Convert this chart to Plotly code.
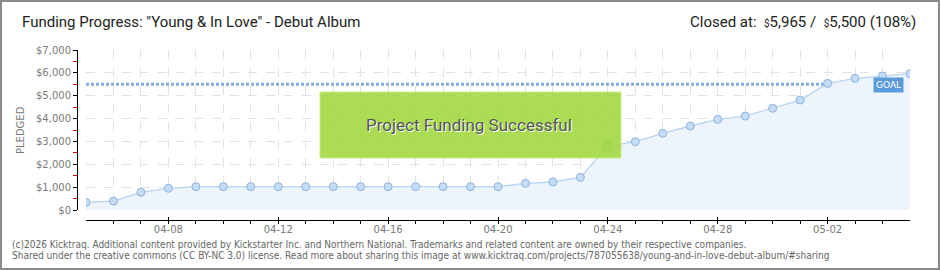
import plotly.graph_objects as go

# ---------------- data ----------------
dates = ["2013-04-05", "2013-04-06", "2013-04-07", "2013-04-08", "2013-04-09", "2013-04-10",
         "2013-04-11", "2013-04-12", "2013-04-13", "2013-04-14", "2013-04-15", "2013-04-16",
         "2013-04-17", "2013-04-18", "2013-04-19", "2013-04-20", "2013-04-21", "2013-04-22",
         "2013-04-23", "2013-04-24", "2013-04-25", "2013-04-26", "2013-04-27", "2013-04-28",
         "2013-04-29", "2013-04-30", "2013-05-01", "2013-05-02", "2013-05-03", "2013-05-04",
         "2013-05-05"]
pledged = [335, 390, 775, 950, 1020, 1020,
           1020, 1020, 1020, 1020, 1020, 1020,
           1020, 1020, 1020, 1020, 1165, 1225,
           1430, 2790, 2990, 3355, 3675, 3965,
           4110, 4450, 4810, 5540, 5760, 5860,
           5965]
goal = 5500
title_text = 'Funding Progress: "Young & In Love" - Debut Album'
closed_text = ('Closed at:  <span style="font-size:10px">$</span>5,965 /  '
               '<span style="font-size:10px">$</span>5,500 (108%)')
footer_1 = ("(c)2026 Kicktraq. Additional content provided by Kickstarter Inc. and Northern National. "
            "Trademarks and related content are owned by their respective companies.")
footer_2 = ("Shared under the creative commons (CC BY-NC 3.0) license. Read more about sharing this image at "
            "www.kicktraq.com/projects/787055638/young-and-in-love-debut-album/#sharing")

# ---------------- layout geometry (pixels) ----------------
W, H = 940, 270
ML, MR, MT, MB = 77, 30, 50, 50
PW = W - ML - MR
PH = H - MT - MB


def px(x):
    return (x - ML) / PW


def py(y):
    return (H - MB - y) / PH


head = "Roboto, sans-serif"
foot = "Liberation Sans Narrow, DejaVu Sans Condensed, sans-serif"
tickfont = dict(family="DejaVu Sans, sans-serif", size=10, color="#7a7a7a")

fig = go.Figure()
fig.add_trace(go.Scatter(
    x=dates, y=pledged, mode="lines+markers",
    line=dict(color="#b7d4f3", width=1.3),
    fill="tozeroy", fillcolor="#edf4fc",
    marker=dict(size=8, color="#c4dcf6", line=dict(color="#8fb3dc", width=1)),
    hoverinfo="skip", showlegend=False,
))

fig.update_layout(
    width=W, height=H,
    margin=dict(l=ML, r=MR, t=MT, b=MB),
    paper_bgcolor="white", plot_bgcolor="white",
    xaxis=dict(
        domain=[px(86), 1], anchor="free", position=0,
        range=[dates[0], dates[-1]],
        type="date", tickformat="%m-%d",
        tick0="2013-04-08", dtick=4 * 86400000,
        showline=True, linecolor="black", linewidth=1,
        ticks="inside", ticklen=3, tickcolor="black",
        tickfont=tickfont,
        showgrid=True, gridcolor="#e2e2e2", griddash="dash", gridwidth=1,
        minor=dict(dtick=86400000, tick0="2013-04-05", ticks="outside", ticklen=3,
                   tickcolor="black", showgrid=True, gridcolor="#e2e2e2", griddash="dash"),
        zeroline=False, fixedrange=True,
    ),
    yaxis=dict(
        domain=[py(210), 1], anchor="free", position=0,
        range=[0, 7000], dtick=1000, tickprefix="$", tickformat=",d",
        showline=True, linecolor="black", linewidth=1,
        ticks="outside", ticklen=4, tickcolor="black",
        tickfont=tickfont,
        showgrid=True, gridcolor="#e2e2e2", griddash="dash", gridwidth=1,
        minor=dict(dtick=500, ticks="outside", ticklen=4, tickcolor="#e00000", showgrid=False),
        zeroline=False, fixedrange=True,
    ),
)

shapes = [
    # goal line
    dict(type="line", xref="x domain", yref="y", x0=0, x1=1, y0=goal, y1=goal,
         line=dict(color="#83ade0", width=3, dash="3px,2px"), layer="below"),
    # success banner
    dict(type="rect", xref="paper", yref="paper", x0=px(320), x1=px(621), y0=py(158), y1=py(92),
         fillcolor="rgba(160,214,60,0.88)", line=dict(color="#c7ec8c", width=1), layer="above"),
    # outer border
    dict(type="rect", xref="paper", yref="paper", x0=px(1), x1=px(939), y0=py(269), y1=py(1),
         line=dict(color="#8a8a8a", width=2), fillcolor="rgba(0,0,0,0)", layer="above"),
]
fig.update_layout(shapes=shapes)

annotations = [
    dict(text=title_text, xref="paper", yref="paper", x=px(20), y=py(22), xanchor="left",
         yanchor="middle", showarrow=False, font=dict(family=head, size=15, color="#222")),
    dict(text=closed_text, xref="paper", yref="paper", x=px(918), y=py(22), xanchor="right",
         yanchor="middle", showarrow=False, font=dict(family=head, size=15, color="#222")),
    dict(text="PLEDGED", xref="paper", yref="paper", x=px(20), y=py(130), xanchor="center",
         yanchor="middle", textangle=-90, showarrow=False,
         font=dict(family="DejaVu Sans, sans-serif", size=10, color="#7a7a7a")),
    dict(text="GOAL", xref="paper", yref="paper", x=px(888), y=py(84.5), xanchor="center",
         yanchor="middle", showarrow=False, bgcolor="#5b9bdc", borderpad=2,
         font=dict(family="DejaVu Sans, sans-serif", size=9, color="white")),
    dict(text="Project Funding Successful", xref="paper", yref="paper", x=px(469), y=py(125),
         xanchor="center", yanchor="middle", showarrow=False,
         font=dict(family=head, size=17, color="#555", shadow="1px 1px 0px #ffffff")),
    dict(text=footer_1, xref="paper", yref="paper", x=px(10), y=py(244), xanchor="left",
         yanchor="middle", showarrow=False, font=dict(family=foot, size=10, color="#666")),
    dict(text=footer_2, xref="paper", yref="paper", x=px(10), y=py(256), xanchor="left",
         yanchor="middle", showarrow=False, font=dict(family=foot, size=10, color="#666")),
]
fig.update_layout(annotations=annotations)

fig.write_html("out.html")
